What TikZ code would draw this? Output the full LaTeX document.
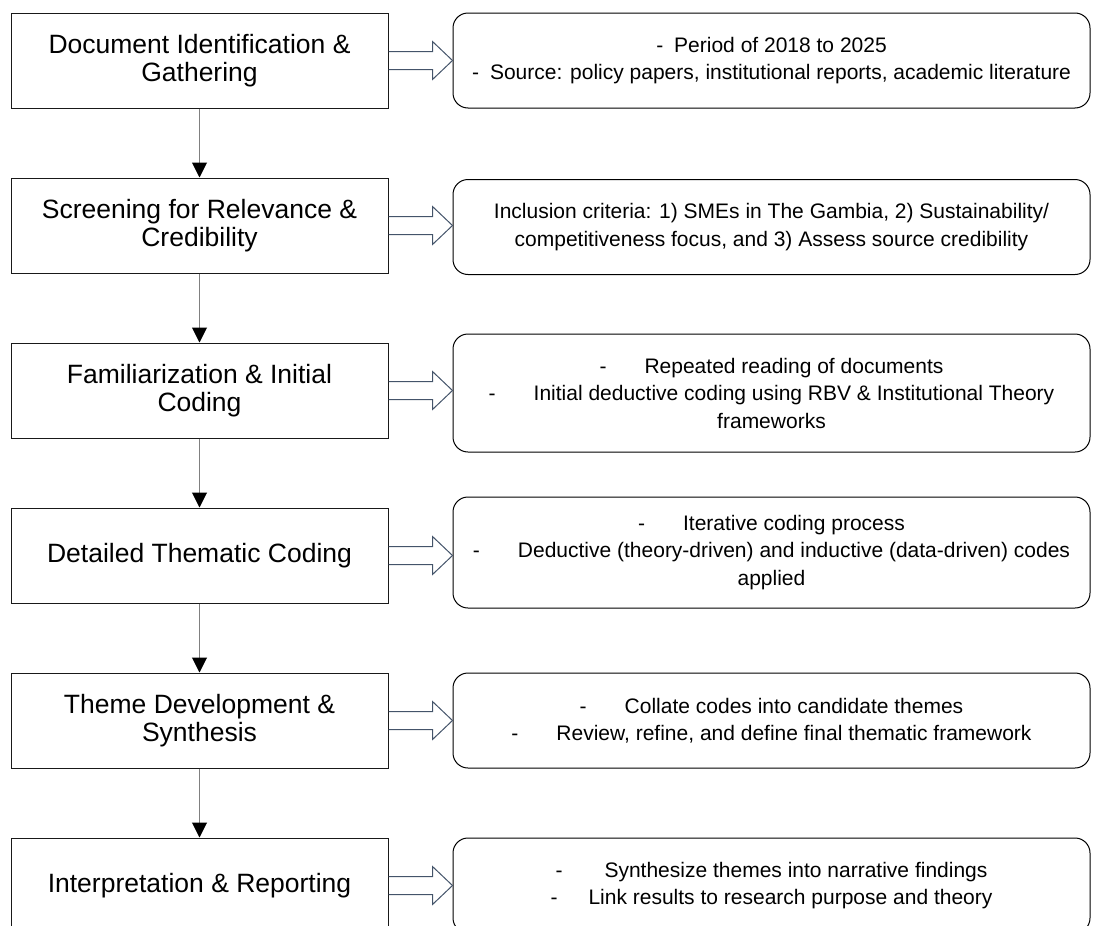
\documentclass[tikz,border=0pt]{standalone}
\usepackage{fontspec}
\setmainfont{Liberation Sans}
\usetikzlibrary{positioning,arrows.meta}

\definecolor{arrowblue}{RGB}{68,84,106}
\newcommand{\tabdash}[1][38]{-\hspace{#1pt}}

\tikzset{
	stage/.style={draw=black!90, line width=1pt, minimum width=377pt, minimum height=95pt,
		align=center, font=\fontsize{26.5}{28.5}\selectfont},
	note/.style={draw=black, line width=1pt, rounded corners=15pt, minimum width=637pt,
		minimum height=95pt, inner sep=0pt, align=center, font=\fontsize{21}{27.5}\selectfont},
	flow/.style={draw=gray, line width=1pt, -{Triangle[width=15pt,length=15pt,color=black]}},
	hollow/.style={draw=arrowblue, line width=1pt,
		to path={(\tikztostart) ++(0,-9) -- ++(44,0) -- ++(0,-10) -- (\tikztotarget |- \tikztostart)
			-- ++(-20,19) -- ++(0,-10) -- ++(-44,0)}}
}

\begin{document}
\begin{tikzpicture}[x=1pt, y=-1pt, node distance=165pt]
	\clip (0,0) rectangle (1093,926);
	\node (gather) [stage] at (199.5,60.5) {Document Identification \&\\Gathering};
	\node (screen) [stage, below of=gather] {Screening for Relevance \&\\Credibility};
	\node (famil) [stage, below of=screen] {Familiarization \& Initial\\Coding};
	\node (coding) [stage, below of=famil] {Detailed Thematic Coding};
	\node (theme) [stage, below of=coding] {Theme Development \&\\Synthesis};
	\node (report) [stage, below of=theme] {Interpretation \& Reporting};

	\node (gatherN) [note, right of=gather, node distance=572pt] {\tabdash[11]Period of 2018 to 2025\\\tabdash[11]Source: policy papers, institutional reports, academic literature};
	\node (screenN) [note, right of=screen, node distance=572pt, yshift=-1.5pt] {Inclusion criteria: 1) SMEs in The Gambia, 2) Sustainability/\\competitiveness focus, and 3) Assess source credibility};
	\node (familN) [note, right of=famil, node distance=572pt, minimum height=118pt, yshift=-2.5pt] {\tabdash Repeated reading of documents\\\tabdash Initial deductive coding using RBV \& Institutional Theory\\frameworks};
	\node (codingN) [note, right of=coding, node distance=572pt, minimum height=111pt, yshift=3pt] {\tabdash Iterative coding process\\\tabdash Deductive (theory-driven) and inductive (data-driven) codes\\applied};
	\node (themeN) [note, right of=theme, node distance=572pt] {\tabdash Collate codes into candidate themes\\\tabdash Review, refine, and define final thematic framework};
	\node (reportN) [note, right of=report, node distance=572pt] {\tabdash[42]Synthesize themes into narrative findings\\\tabdash[31]Link results to research purpose and theory};

	\draw[flow] (gather) to (screen);
	\draw[flow] (screen) to (famil);
	\draw[flow] (famil) to (coding);
	\draw[flow] (coding) to (theme);
	\draw[flow] (theme) to (report);

	\draw[hollow] (gather.east) to (gatherN.west);
	\draw[hollow] (screen.east) to (screenN.west);
	\draw[hollow] (famil.east) to (familN.west);
	\draw[hollow] (coding.east) to (codingN.west);
	\draw[hollow] (theme.east) to (themeN.west);
	\draw[hollow] (report.east) to (reportN.west);
\end{tikzpicture}
\end{document}
